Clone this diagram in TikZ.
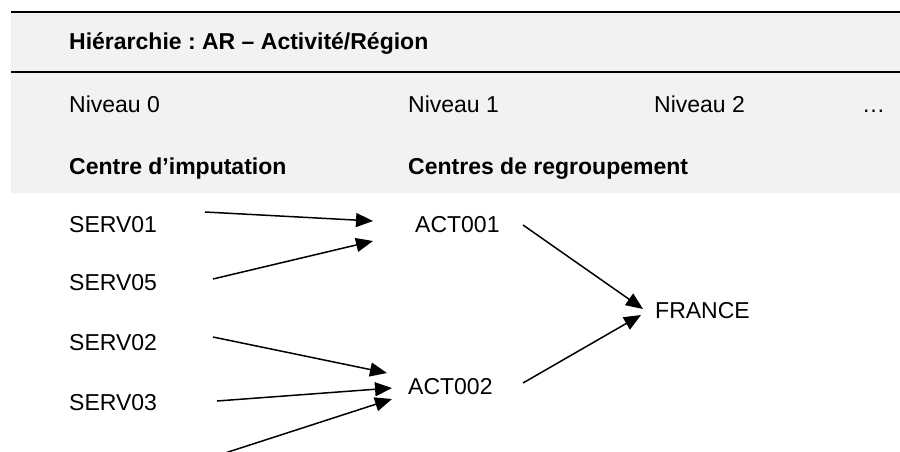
\documentclass[tikz,border=0pt]{standalone}
\usepackage{fontspec}
\setmainfont{Liberation Sans}
\usetikzlibrary{arrows.meta}

\begin{document}
\frenchspacing
\begin{tikzpicture}[x=1pt, y=-1pt,
	lbl/.style={anchor=base west, inner sep=0pt, font=\fontsize{23}{27}\selectfont},
	gras/.style={lbl, font=\fontsize{23}{27}\selectfont\bfseries},
	fleche/.style={-{Triangle[length=17pt, width=14pt]}, line width=1.5pt}]
	\useasboundingbox (0, 0) rectangle (900, 452);
	% bandeau d'en-tete
	\fill[color=gray!10] (11, 12) rectangle (900, 193);
	\draw[line width=2pt] (11, 12) -- (900, 12);
	\draw[line width=2pt] (11, 72) -- (900, 72);
	\node[gras] (titre) at (69, 50) {Hiérarchie : AR – Activité/Région};
	\node[lbl] (n0) at (69, 112) {Niveau 0};
	\node[lbl] (n1) at (408, 112) {Niveau 1};
	\node[lbl] (n2) at (654, 112) {Niveau 2};
	\node[lbl] (nx) at (862, 112) {…};
	\node[gras] (ci) at (69, 174) {Centre d’imputation};
	\node[gras] (cr) at (408, 174) {Centres de regroupement};
	% niveau 0
	\node[lbl] (s01) at (69, 232) {SERV01};
	\node[lbl] (s05) at (69, 290) {SERV05};
	\node[lbl] (s02) at (69, 350) {SERV02};
	\node[lbl] (s03) at (69, 410) {SERV03};
	\coordinate (s04) at (222, 454);
	% niveaux 1 et 2
	\node[lbl] (a1) at (415, 232) {ACT001};
	\node[lbl] (a2) at (408, 394) {ACT002};
	\node[lbl] (fr) at (655, 318) {FRANCE};
	% liens
	\draw[fleche] ([shift={(136,-20)}]s01.base west) -- ([shift={(-42,-11)}]a1.base west);
	\draw[fleche] ([shift={(144,-11)}]s05.base west) -- ([shift={(-42,9)}]a1.base west);
	\draw[fleche] ([shift={(144,-13)}]s02.base west) -- ([shift={(-21,-21)}]a2.base west);
	\draw[fleche] ([shift={(148,-9)}]s03.base west) -- ([shift={(-16,-6)}]a2.base west);
	\draw[fleche] (s04) -- ([shift={(-16,5)}]a2.base west);
	\draw[fleche] ([shift={(108,-7)}]a1.base west) -- ([shift={(-12,-9)}]fr.base west);
	\draw[fleche] ([shift={(115,-11)}]a2.base west) -- ([shift={(-14,-3)}]fr.base west);
\end{tikzpicture}
\end{document}
